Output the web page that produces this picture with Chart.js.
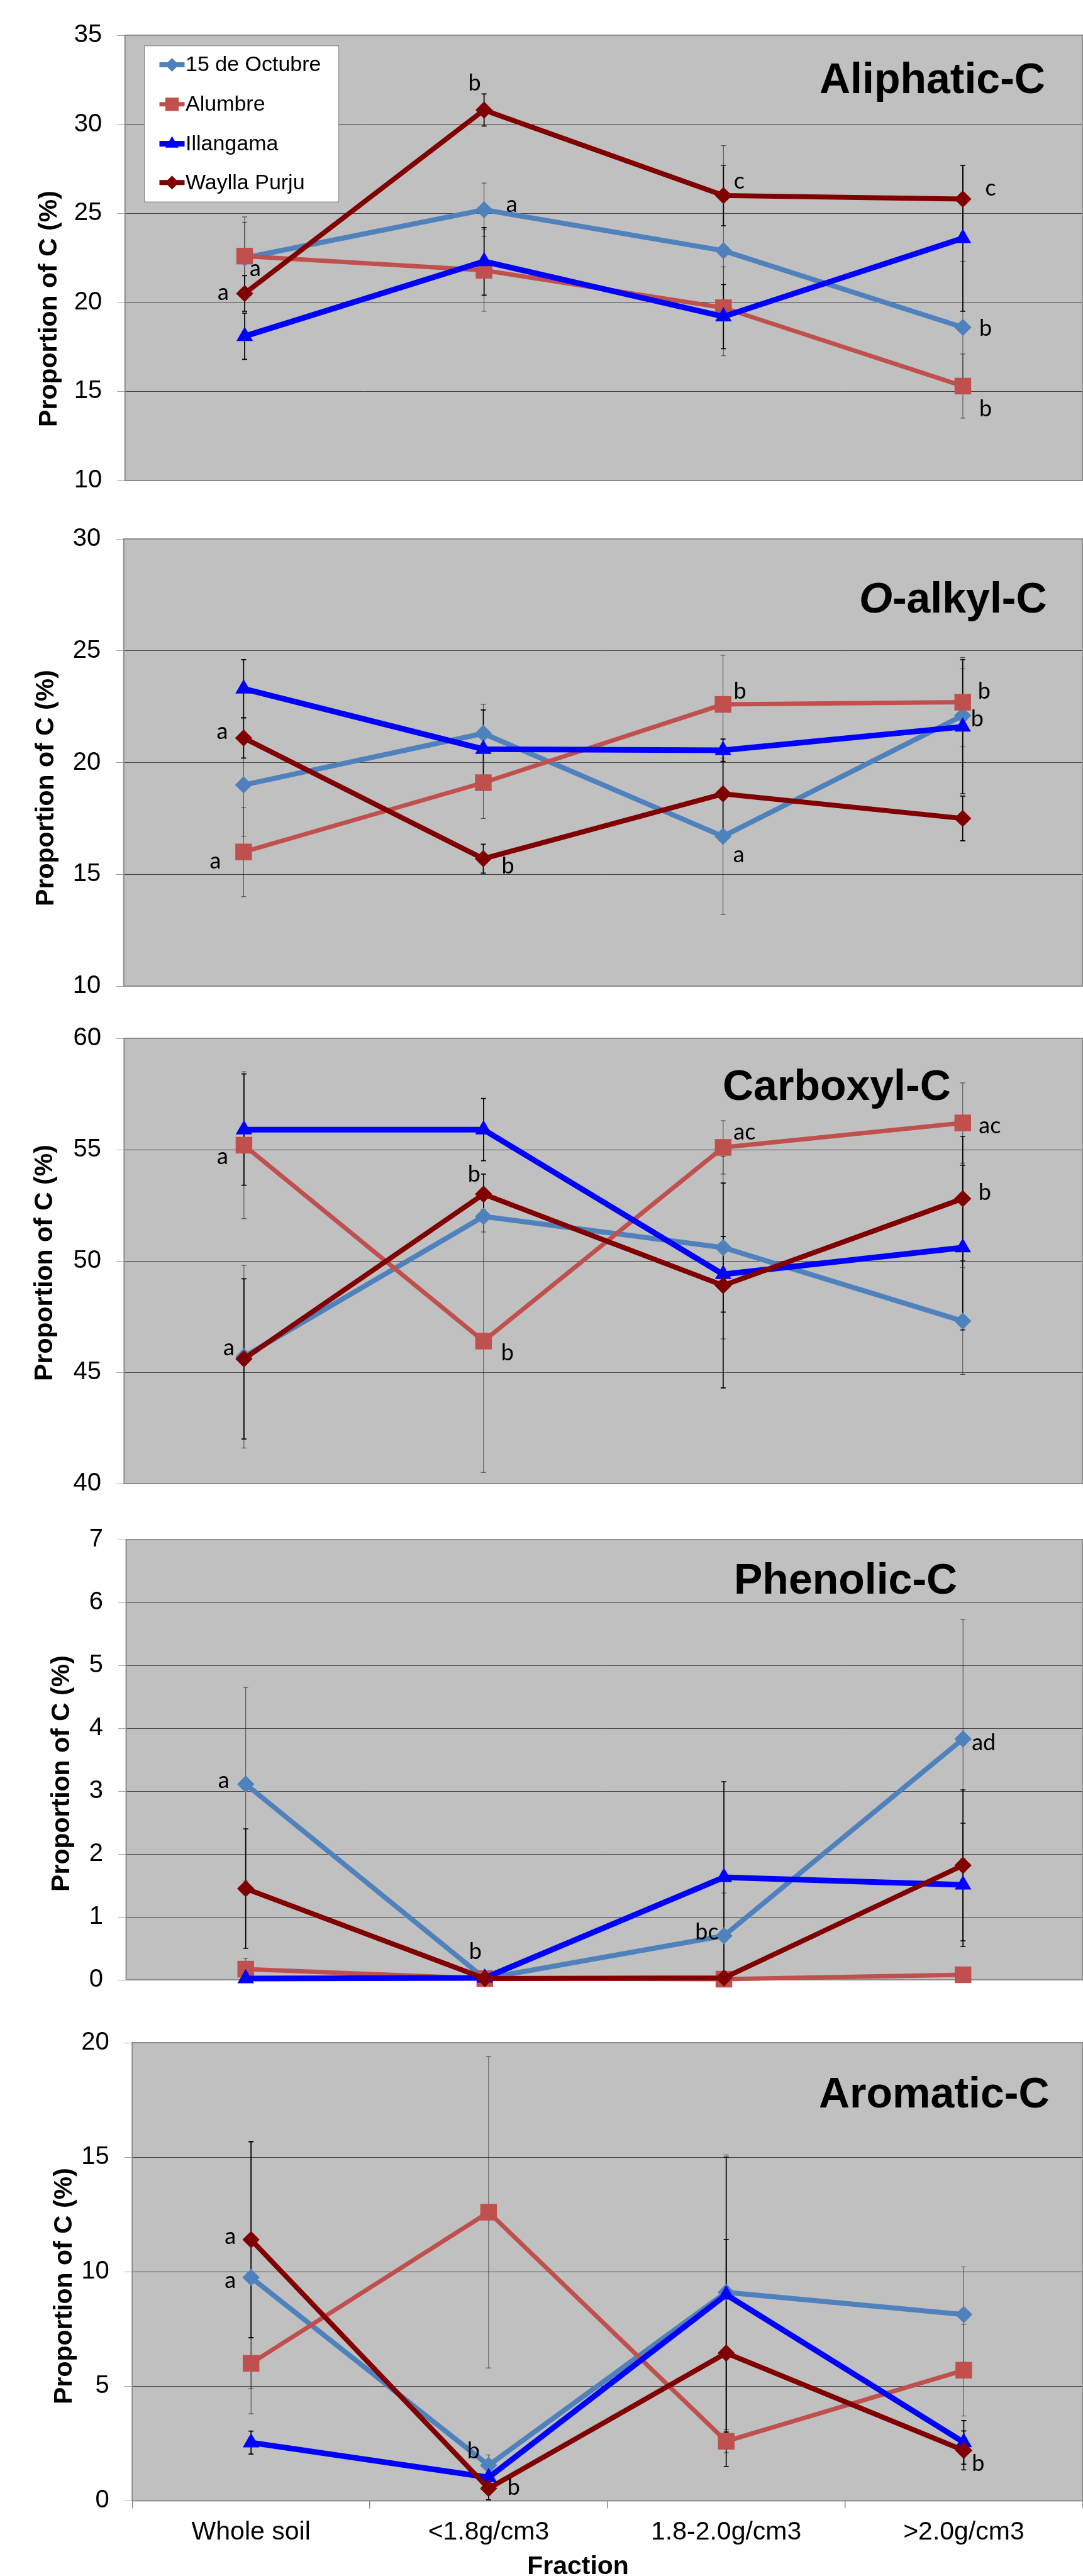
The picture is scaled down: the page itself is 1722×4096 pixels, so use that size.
<!DOCTYPE html>
<html>
<head>
<meta charset="utf-8">
<script src="https://cdn.jsdelivr.net/npm/chart.js@4.4.1/dist/chart.umd.min.js"></script>
<style>
html, body { margin: 0; padding: 0; background: #fff; overflow: hidden; }
#wrap { position: relative; width: 1722px; height: 4096px; overflow: hidden; }
canvas { position: absolute; left: 0; }
</style>
</head>
<body>
<div id="wrap"></div>
<script>
const categorias = ['Whole soil', '<1.8g/cm3', '1.8-2.0g/cm3', '>2.0g/cm3'];
const series = ['15 de Octubre', 'Alumbre', 'Illangama', 'Waylla Purju'];

// Aliphatic-C
const aliOctubre = [22.5, 25.2, 22.9, 18.6];
const aliAlumbre = [22.6, 21.8, 19.7, 15.3];
const aliIllangama = [18.1, 22.3, 19.2, 23.6];
const aliWaylla = [20.5, 30.8, 26.0, 25.8];
const aliErrores = [[2.0, 1.5, 5.9, 3.7], [2.2, 2.3, 2.3, 1.8], [1.3, 1.9, 1.8, 4.1], [1.0, 0.9, 1.7, 1.9]];
const aliTicks = [10, 35, 5];

// O-alkyl-C
const alkOctubre = [19.0, 21.3, 16.7, 22.1];
const alkAlumbre = [16.0, 19.1, 22.6, 22.7];
const alkIllangama = [23.3, 20.6, 20.55, 21.6];
const alkWaylla = [21.1, 15.7, 18.6, 17.5];
const alkErrores = [[2.3, 1.3, 3.5, 2.1], [2.0, 1.6, 2.2, 2.0], [1.3, 1.75, 0.5, 3.0], [0.9, 0.65, 1.9, 1.0]];
const alkTicks = [10, 30, 5];

// Carboxyl-C
const carOctubre = [45.7, 52.0, 50.6, 47.3];
const carAlumbre = [55.2, 46.4, 55.1, 56.2];
const carIllangama = [55.9, 55.9, 49.4, 50.6];
const carWaylla = [45.6, 53.0, 48.9, 52.8];
const carErrores = [[4.1, 0.7, 4.1, 2.4], [3.3, 5.9, 1.2, 1.8], [2.5, 1.4, 1.7, 3.7], [3.6, 0.9, 4.6, 2.8]];
const carTicks = [40, 60, 5];

// Phenolic-C
const fenOctubre = [3.11, 0.02, 0.7, 3.83];
const fenAlumbre = [0.17, 0.02, 0.01, 0.08];
const fenIllangama = [0.02, 0.03, 1.63, 1.51];
const fenWaylla = [1.45, 0.02, 0.03, 1.82];
const fenErrores = [[1.54, 0, 0.68, 1.9], [0.17, 0, 0, 0.05], [0, 0, 1.52, 0.98], [0.95, 0, 0, 1.2]];
const fenTicks = [0, 7, 1];

// Aromatic-C
const aroOctubre = [9.75, 1.55, 9.1, 8.13];
const aroAlumbre = [6.0, 12.6, 2.6, 5.7];
const aroIllangama = [2.54, 1.02, 9.0, 2.55];
const aroWaylla = [11.4, 0.54, 6.45, 2.2];
const aroErrores = [[5.95, 0.45, 6.0, 2.08], [1.1, 6.8, 0.5, 2.0], [0.5, 0.2, 6.0, 0.95], [4.27, 0.5, 4.95, 0.85]];
const aroTicks = [0, 20, 5];

// letras de significancia: [categoria, valor, texto, desplazamiento x]
const aliLetras = [[0, 21.9, 'a', 17], [0, 20.56, 'a', -34], [1, 32.3, 'b', -15], [1, 25.48, 'a', 44],
  [2, 26.78, 'c', 25], [3, 26.41, 'c', 44], [3, 18.53, 'b', 36], [3, 14.02, 'b', 36]];
const alkLetras = [[0, 21.39, 'a', -34], [0, 15.59, 'a', -45], [1, 15.35, 'b', 39], [2, 23.18, 'b', 27],
  [2, 15.87, 'a', 25], [3, 23.18, 'b', 34], [3, 21.94, 'b', 23]];
const carLetras = [[0, 54.68, 'a', -34], [0, 46.08, 'a', -24], [1, 53.89, 'b', -15], [1, 45.86, 'b', 38],
  [2, 55.79, 'ac', 34], [3, 56.06, 'ac', 43], [3, 53.06, 'b', 35]];
const fenLetras = [[0, 3.17, 'a', -35], [1, 0.45, 'b', -15], [2, 0.76, 'bc', -27], [3, 3.77, 'ad', 33]];
const aroLetras = [[0, 11.54, 'a', -33], [0, 9.6, 'a', -33], [1, 2.16, 'b', -24], [1, 0.59, 'b', 40], [3, 1.61, 'b', 23]];

const paneles = [
  {titulo: 'Aliphatic-C', ticks: aliTicks, valores: [aliOctubre, aliAlumbre, aliIllangama, aliWaylla], errores: aliErrores, letras: aliLetras},
  {titulo: 'O-alkyl-C', ticks: alkTicks, valores: [alkOctubre, alkAlumbre, alkIllangama, alkWaylla], errores: alkErrores, letras: alkLetras},
  {titulo: 'Carboxyl-C', ticks: carTicks, valores: [carOctubre, carAlumbre, carIllangama, carWaylla], errores: carErrores, letras: carLetras},
  {titulo: 'Phenolic-C', ticks: fenTicks, valores: [fenOctubre, fenAlumbre, fenIllangama, fenWaylla], errores: fenErrores, letras: fenLetras},
  {titulo: 'Aromatic-C', ticks: aroTicks, valores: [aroOctubre, aroAlumbre, aroIllangama, aroWaylla], errores: aroErrores, letras: aroLetras},
];

// posicion de cada area de grafico en la pagina
const cajas = [
  {top: 38.7, bottom: 785.6, left: 198.7, tx: 1303, ty: 92, ex: 79, ey: 435},
  {top: 839.8, bottom: 1589.3, left: 196.8, tx: 1366, ty: 117, ex: 74, ey: 396},
  {top: 1633.8, bottom: 2380.7, left: 197.4, tx: 1149, ty: 98, ex: 72, ey: 357},
  {top: 2430.7, bottom: 3169.9, left: 200.6, tx: 1167, ty: 86, ex: 99, ey: 372},
  {top: 3230.8, bottom: 3976.4, left: 210.3, tx: 1302, ty: 103, ex: 103, ey: 387},
];
const derecha = 1732.5;
const anchoCanvas = 1740;

const fuente = "'Liberation Sans', Arial, sans-serif";
const colores = ['#4f81bd', '#c0504d', '#0000ff', '#800000'];
const estilos = ['rectRot', 'rect', 'triangle', 'rectRot'];
const radios = [13.7, 18.7, 15.2, 13.7];
const grosores = [8, 7, 9, 8];
const errGrosor = [0.8, 0.8, 1.7, 1.7];

const marca = (ctx, estilo, x, y, r) => {
  ctx.beginPath();
  if (estilo === 'rect') {
    const s = r * Math.SQRT1_2;
    ctx.rect(x - s, y - s, 2 * s, 2 * s);
  } else if (estilo === 'rectRot') {
    ctx.moveTo(x - r, y); ctx.lineTo(x, y - r); ctx.lineTo(x + r, y); ctx.lineTo(x, y + r);
  } else {
    for (let k = 0; k < 3; k++) {
      const a = k * 2 * Math.PI / 3;
      ctx.lineTo(x + Math.sin(a) * r, y - Math.cos(a) * r);
    }
  }
  ctx.closePath();
  ctx.fill();
};

const extras = {
  id: 'extras',
  beforeDraw(chart, args, opts) {
    const {ctx, chartArea: a} = chart;
    ctx.save();
    ctx.fillStyle = '#c0c0c0';
    ctx.fillRect(a.left, a.top, a.right - a.left, a.bottom - a.top);
    ctx.restore();
  },
  beforeDatasetsDraw(chart, args, opts) {
    const {ctx, chartArea: a} = chart;
    const y = chart.scales.y;
    ctx.save();
    ctx.strokeStyle = '#8c8c8c';
    ctx.lineWidth = 2;
    ctx.strokeRect(a.left, a.top, a.right - a.left, a.bottom - a.top);
    // barras de error
    opts.panel.errores.forEach((errs, i) => {
      const meta = chart.getDatasetMeta(i);
      ctx.strokeStyle = errGrosor[i] > 1 ? '#000' : '#2a2a2a';
      ctx.lineWidth = errGrosor[i];
      errs.forEach((e, j) => {
        if (!e) return;
        const v = opts.panel.valores[i][j];
        const x = meta.data[j].x;
        const y1 = y.getPixelForValue(v + e);
        const y2 = y.getPixelForValue(Math.max(v - e, y.min));
        ctx.beginPath();
        ctx.moveTo(x, y1); ctx.lineTo(x, y2);
        ctx.moveTo(x - 4, y1); ctx.lineTo(x + 4, y1);
        ctx.moveTo(x - 4, y2); ctx.lineTo(x + 4, y2);
        ctx.stroke();
      });
    });
    ctx.restore();
  },
  afterDatasetsDraw(chart, args, opts) {
    const {ctx, chartArea: a} = chart;
    const caja = opts.caja;
    const xs = chart.scales.x;
    const ys = chart.scales.y;
    ctx.save();
    // titulo del panel
    ctx.fillStyle = '#000';
    ctx.textBaseline = 'alphabetic';
    ctx.textAlign = 'left';
    if (opts.panel.titulo === 'O-alkyl-C') {
      ctx.font = 'italic bold 68px ' + fuente;
      ctx.fillText('O', caja.tx, a.top + caja.ty);
      const w = ctx.measureText('O').width;
      ctx.font = 'bold 68px ' + fuente;
      ctx.fillText('-alkyl-C', caja.tx + w, a.top + caja.ty);
    } else {
      ctx.font = 'bold 68px ' + fuente;
      ctx.fillText(opts.panel.titulo, caja.tx, a.top + caja.ty);
    }
    // titulo eje y
    ctx.save();
    ctx.translate(caja.ex, a.top + caja.ey);
    ctx.rotate(-Math.PI / 2);
    ctx.textAlign = 'center';
    ctx.textBaseline = 'middle';
    ctx.font = 'bold 41px ' + fuente;
    ctx.fillText('Proportion of C (%)', 0, 0);
    ctx.restore();
    // letras
    ctx.font = '36px Lato, "Open Sans", sans-serif';
    ctx.textAlign = 'center';
    ctx.textBaseline = 'middle';
    opts.panel.letras.forEach(([c, v, t, dx]) => {
      ctx.fillText(t, xs.getPixelForValue(c) + dx, ys.getPixelForValue(v));
    });
    // leyenda solo en el primer panel
    if (opts.leyenda) {
      const lx = a.left + 30.9, ly = a.top + 16.8;
      ctx.fillStyle = '#fff';
      ctx.fillRect(lx, ly, 309, 248.3);
      ctx.strokeStyle = '#7f7f7f';
      ctx.lineWidth = 1;
      ctx.strokeRect(lx, ly, 309, 248.3);
      const filas = [47.1, 109.8, 172.6, 234.3];
      series.forEach((s, i) => {
        const yy = a.top + filas[i];
        ctx.strokeStyle = colores[i];
        ctx.lineWidth = grosores[i];
        ctx.beginPath();
        ctx.moveTo(253.5, yy); ctx.lineTo(293.5, yy);
        ctx.stroke();
        ctx.fillStyle = colores[i];
        marca(ctx, estilos[i], 273.5, yy, radios[i] * 0.8);
        ctx.fillStyle = '#000';
        ctx.font = '34px ' + fuente;
        ctx.textAlign = 'left';
        ctx.fillText(s, 295, yy + 1);
      });
    }
    // titulo eje x en el ultimo panel
    if (opts.fraccion) {
      ctx.fillStyle = '#000';
      ctx.font = 'bold 41px ' + fuente;
      ctx.textAlign = 'center';
      ctx.textBaseline = 'alphabetic';
      ctx.fillText('Fraction', 919, 4093 - opts.canvasTop);
    }
    ctx.restore();
  }
};

const wrap = document.getElementById('wrap');

paneles.forEach((panel, p) => {
  const caja = cajas[p];
  const ultimo = p === paneles.length - 1;
  const alto = caja.bottom - caja.top;
  const canvasTop = Math.floor(caja.top - 30);
  const padTop = caja.top - canvasTop;
  let canvasAlto, padBottom, altoX = 0;
  if (ultimo) {
    canvasAlto = 4096 - canvasTop;
    altoX = canvasAlto - padTop - alto;
    padBottom = 0;
  } else {
    canvasAlto = Math.ceil(padTop + alto + 26);
    padBottom = canvasAlto - padTop - alto;
  }
  const canvas = document.createElement('canvas');
  canvas.width = anchoCanvas;
  canvas.height = canvasAlto;
  canvas.style.top = canvasTop + 'px';
  wrap.appendChild(canvas);

  const datasets = panel.valores.map((vals, i) => ({
    label: series[i],
    data: vals,
    borderColor: colores[i],
    backgroundColor: colores[i],
    borderWidth: grosores[i],
    pointStyle: estilos[i],
    pointRadius: radios[i],
    pointBackgroundColor: colores[i],
    pointBorderColor: colores[i],
    pointBorderWidth: 0,
    tension: 0,
    clip: false,
    order: 3 - i,
  }));

  new Chart(canvas, {
    type: 'line',
    data: {labels: categorias, datasets: datasets},
    options: {
      responsive: false,
      animation: false,
      events: [],
      layout: {padding: {top: padTop, bottom: padBottom, left: 0, right: anchoCanvas - derecha}},
      scales: {
        x: {
          display: ultimo,
          offset: true,
          afterFit: (s) => { if (ultimo) s.height = altoX; },
          grid: {offset: true, drawOnChartArea: false, tickLength: 12, color: '#8c8c8c', lineWidth: 1.5},
          border: {display: false},
          ticks: {color: '#000', font: {family: fuente, size: 41}, padding: 14, maxRotation: 0, autoSkip: false},
        },
        y: {
          min: panel.ticks[0],
          max: panel.ticks[1],
          afterFit: (s) => { s.width = caja.left; },
          grid: {color: '#262626', lineWidth: 0.8, tickLength: 12.5, tickColor: '#8c8c8c'},
          border: {display: false},
          ticks: {stepSize: panel.ticks[2], color: '#000', font: {family: fuente, size: 40}, padding: 24},
        },
      },
      plugins: {
        legend: {display: false},
        tooltip: {enabled: false},
        extras: {panel: panel, caja: caja, leyenda: p === 0, fraccion: ultimo, canvasTop: canvasTop},
      },
    },
    plugins: [extras],
  });
});
</script>
</body>
</html>
